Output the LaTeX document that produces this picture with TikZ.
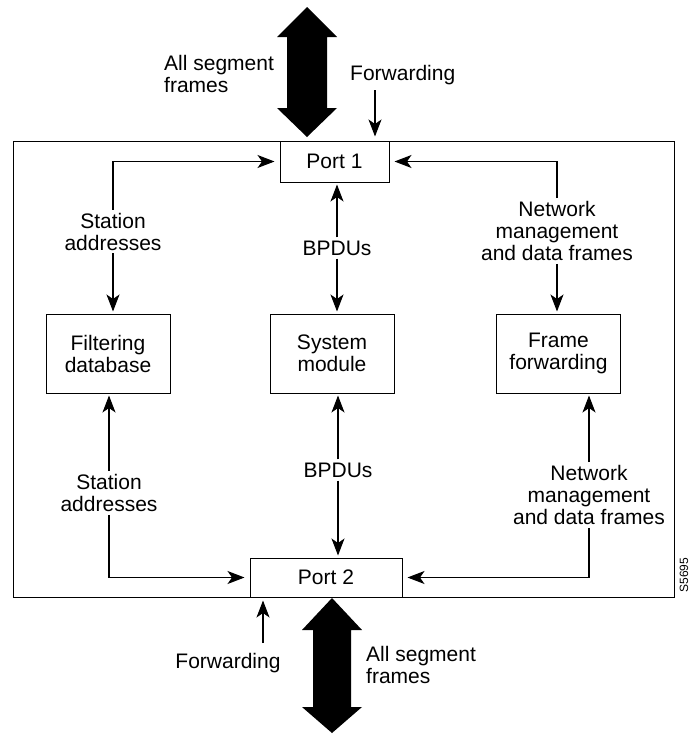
\documentclass[tikz,border=0pt]{standalone}
\usepackage{fontspec}
\setmainfont{Liberation Sans}
\usetikzlibrary{arrows.meta}
\begin{document}
\begin{tikzpicture}[x=1pt,y=-1pt,
  box/.style={draw, line width=1pt, fill=white, inner sep=0pt, align=center, font=\fontsize{21}{22}\selectfont},
  lbl/.style={align=center, inner sep=3pt, font=\fontsize{21}{22}\selectfont},
  conn/.style={line width=1.1pt, -{Stealth[length=17pt,width=13pt,inset=4.5pt]}, shorten >=2pt},
  hconn/.style={conn, shorten >=5pt},
  bigarrow/.style={fill=black}]
\useasboundingbox (0,0) rectangle (692,734);
% outer frame
\draw[line width=1pt] (13,141) rectangle (674,597);
% boxes
\node[box, minimum width=109pt, minimum height=41pt] (p1) at (334.5,161.5) {Port 1};
\node[box, minimum width=152pt, minimum height=39pt] (p2) at (326,577.5) {Port 2};
\node[box, minimum width=124pt, minimum height=79pt] (fd) at (108,353.5) {Filtering\\database};
\node[box, minimum width=124pt, minimum height=79pt] (sm) at (332,353.5) {System\\module};
\node[box, minimum width=124pt, minimum height=79pt] (ff) at (558.5,353.5) {Frame\\forwarding};
% labels
\node[lbl] (sa1) at (113,231.5) {Station\\addresses};
\node[lbl] (bp1) at (337,248) {BPDUs};
\node[lbl] (nm1) at (557,231) {Network\\management\\and data frames};
\node[lbl] (sa2) at (109,493) {Station\\addresses};
\node[lbl] (bp2) at (338,470) {BPDUs};
\node[lbl] (nm2) at (589,495) {Network\\management\\and data frames};
% connectors
\draw[hconn] (sa1.north) |- (p1.west);
\draw[conn] (sa1.south) -- (sa1.south |- fd.north);
\draw[conn] (bp1.north) -- (bp1.north |- p1.south);
\draw[conn] (bp1.south) -- (bp1.south |- sm.north);
\draw[hconn] (nm1.north) |- (p1.east);
\draw[conn] (nm1.south) -- (nm1.south |- ff.north);
\draw[conn] (sa2.north) -- (sa2.north |- fd.south);
\draw[hconn] (sa2.south) |- (p2.west);
\draw[conn] (bp2.north) -- (bp2.north |- sm.south);
\draw[conn] (bp2.south) -- (bp2.south |- p2.north);
\draw[conn] (nm2.north) -- (nm2.north |- ff.south);
\draw[hconn] (nm2.south) |- (p2.east);
% forwarding arrows
\node[lbl, anchor=west, inner sep=0pt] (fw1) at (350,75) {Forwarding};
\coordinate (fw1s) at (375,90);
\draw[conn, shorten >=4pt] (fw1s) -- (fw1s |- p1.north);
\node[lbl, inner sep=0pt] (fw2) at (228,663) {Forwarding};
\coordinate (fw2n) at (263,643);
\draw[conn, shorten >=3pt] (fw2n) -- (fw2n |- p2.south);
% all segment frames labels
\node[lbl, anchor=west, align=left, inner sep=0pt] (as1) at (164,74) {All segment\\frames};
\node[lbl, anchor=west, align=left, inner sep=0pt] (as2) at (366,665) {All segment\\frames};
% big double arrows
\fill[bigarrow] (307,7) -- (337,37) -- (327,37) -- (327,108) -- (337,108) -- (307,137)
  -- (277,108) -- (287,108) -- (287,37) -- (277,37) -- cycle;
\fill[bigarrow] (332,598) -- (362,630) -- (351,630) -- (351,707) -- (362,707) -- (332,733)
  -- (302,707) -- (313,707) -- (313,630) -- (302,630) -- cycle;
% figure id
\node[rotate=90, inner sep=0pt, font=\fontsize{12}{14}\selectfont] (fid) at (684,575) {S5695};
\end{tikzpicture}
\end{document}
